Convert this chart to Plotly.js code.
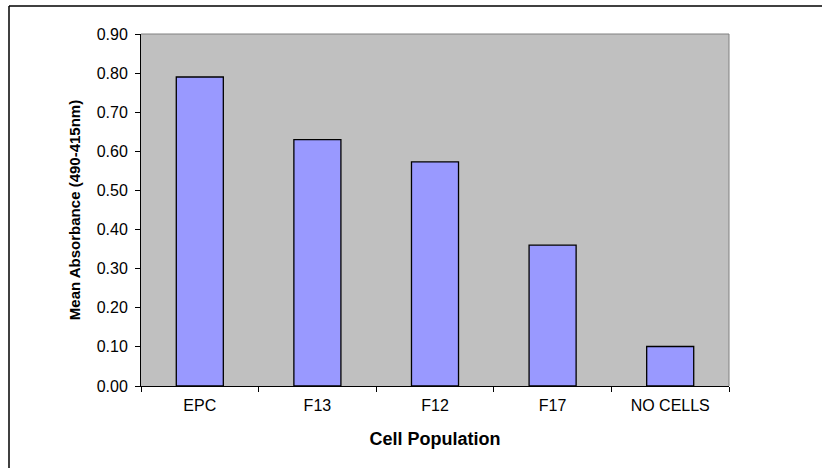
<!DOCTYPE html>
<html>
<head>
<meta charset="utf-8">
<script src="https://cdn.plot.ly/plotly-3.0.1.min.js"></script>
<style>html,body{margin:0;padding:0;background:#fff;}#chart{width:822px;height:468px;}</style>
</head>
<body>
<div id="chart"></div>
<script>
const categories = ["EPC", "F13", "F12", "F17", "NO CELLS"];
const meanAbsorbance = [0.79, 0.63, 0.573, 0.36, 0.101];
const yTickValues = [0, 0.1, 0.2, 0.3, 0.4, 0.5, 0.6, 0.7, 0.8, 0.9];
const yTickLabels = ["0.00", "0.10", "0.20", "0.30", "0.40", "0.50", "0.60", "0.70", "0.80", "0.90"];

const W = 822, H = 468, L = 141, R = 93, T = 34, B = 82;
const pw = W - L - R, ph = H - T - B;
const px = x => (x - L) / pw;
const py = y => (H - B - y) / ph;
const FONT = "Liberation Sans, Arial, sans-serif";

const trace = {
  type: "bar",
  x: categories,
  y: meanAbsorbance,
  marker: {color: "#9999FF", line: {color: "#000000", width: 1.3}},
  hoverinfo: "none"
};

const layout = {
  width: W, height: H,
  margin: {l: L, r: R, t: T, b: B, pad: 0},
  paper_bgcolor: "#FFFFFF",
  plot_bgcolor: "#C0C0C0",
  bargap: 0.6,
  showlegend: false,
  font: {family: FONT, color: "#000"},
  xaxis: {
    type: "category",
    tickson: "boundaries",
    ticks: "outside", ticklen: 5, tickcolor: "#000", tickwidth: 1,
    ticklabelstandoff: 5,
    showline: true, linecolor: "#000", linewidth: 1,
    showgrid: false, zeroline: false,
    tickfont: {size: 16, family: FONT},
    title: {text: "Cell Population", font: {size: 18, family: FONT, weight: "bold"}, standoff: 19}
  },
  yaxis: {
    range: [0, 0.9],
    tickvals: yTickValues, ticktext: yTickLabels,
    ticks: "outside", ticklen: 5, tickcolor: "#000", tickwidth: 1,
    ticklabelstandoff: 4,
    showline: true, linecolor: "#000", linewidth: 1,
    showgrid: false, zeroline: false,
    tickfont: {size: 16, family: FONT},
    title: {text: "Mean Absorbance (490-415nm)", font: {size: 15, family: FONT, weight: "bold"}, standoff: 12}
  },
  shapes: [
    {type: "line", xref: "paper", yref: "paper", x0: 1, x1: 1, y0: 0, y1: 1, line: {color: "#808080", width: 1}},
    {type: "line", xref: "paper", yref: "paper", x0: 0, x1: 1, y0: 1, y1: 1, line: {color: "#808080", width: 1}},
    {type: "line", xref: "paper", yref: "paper", x0: px(9), x1: px(822), y0: py(6), y1: py(6), line: {color: "#000", width: 1.5}},
    {type: "line", xref: "paper", yref: "paper", x0: px(9), x1: px(9), y0: py(468), y1: py(6), line: {color: "#000", width: 1.5}}
  ]
};

Plotly.newPlot("chart", [trace], layout, {staticPlot: true, displayModeBar: false});
</script>
</body>
</html>
